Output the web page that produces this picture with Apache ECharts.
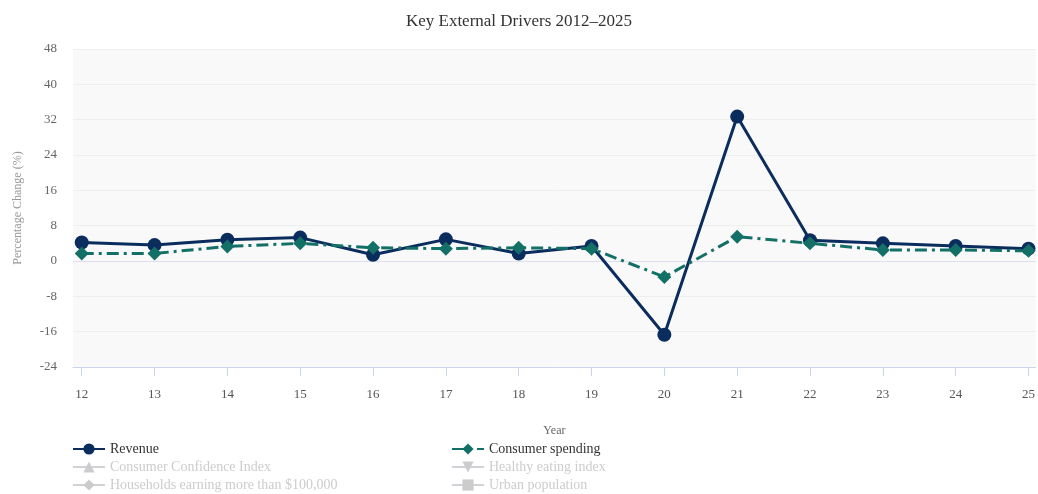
<!DOCTYPE html>
<html>
<head>
<meta charset="utf-8">
<title>Key External Drivers 2012–2025</title>
<script src="https://cdn.jsdelivr.net/npm/echarts@6/dist/echarts.min.js"></script>
<style>
  html, body { margin: 0; padding: 0; background: #ffffff; }
  #chart { width: 1038px; height: 494px; }
</style>
</head>
<body>
<div id="chart"></div>
<script>
// Two-digit year labels along the x axis
const years = [12, 13, 14, 15, 16, 17, 18, 19, 20, 21, 22, 23, 24, 25];

// Year-on-year percentage change
const revenue = [4.2, 3.6, 4.8, 5.3, 1.4, 4.9, 1.7, 3.4, -16.7, 32.7, 4.7, 4.0, 3.4, 2.8];
const consumerSpending = [1.7, 1.7, 3.3, 4.0, 3.0, 2.8, 3.0, 2.8, -3.6, 5.5, 4.0, 2.5, 2.5, 2.3];

// Drivers switched off in the legend (no values plotted)
const consumerConfidence = [];
const healthyEating = [];
const householdsOver100k = [];
const urbanPopulation = [];

// Y axis range
const yMin = -24, yMax = 48, yStep = 8;

const serif = '"Liberation Serif", "DejaVu Serif", serif';

const pair = (vals) => years.map((y, i) => [y, vals[i]]);

const chart = echarts.init(document.getElementById('chart'), null, { renderer: 'canvas' });

const legendText = { fontFamily: serif, fontSize: 14, color: '#333333' };
const hidden = {
  'Consumer Confidence Index': false,
  'Healthy eating index': false,
  'Households earning more than $100,000': false,
  'Urban population': false
};

const legendBase = {
  orient: 'vertical', top: 442, height: 60, padding: 0,
  itemWidth: 32, itemHeight: 14, itemGap: 4,
  inactiveColor: '#cccccc',
  inactiveBorderColor: '#cccccc',
  textStyle: legendText,
  selected: hidden
};

chart.setOption({
  animation: false,
  backgroundColor: '#ffffff',
  title: {
    text: 'Key External Drivers 2012–2025',
    left: 'center',
    top: 8,
    textStyle: { fontFamily: serif, fontSize: 17, fontWeight: 'normal', color: '#333333' }
  },
  grid: {
    left: 73, right: 0, top: 49, bottom: 127,
    show: true, backgroundColor: '#f9f9fa', borderWidth: 0
  },
  legend: [
    Object.assign({}, legendBase, {
      left: 72,
      data: ['Revenue', 'Consumer Confidence Index', 'Households earning more than $100,000']
    }),
    Object.assign({}, legendBase, {
      left: 451,
      data: ['Consumer spending', 'Healthy eating index', 'Urban population']
    })
  ],
  xAxis: {
    type: 'value',
    min: 11.88, max: 25.1,
    name: 'Year',
    nameLocation: 'middle',
    nameGap: 58,
    nameTextStyle: { fontFamily: serif, fontSize: 12, color: '#666666' },
    axisLine: { show: true, onZero: false, lineStyle: { color: '#ccd6eb', width: 1 } },
    axisTick: { show: true, customValues: years, length: 9, lineStyle: { color: '#ccd6eb' } },
    axisLabel: {
      customValues: years,
      margin: 21,
      fontFamily: serif, fontSize: 13, color: '#555555',
      formatter: (v) => String(v)
    },
    splitLine: { show: false }
  },
  yAxis: {
    type: 'value',
    min: yMin, max: yMax, interval: yStep,
    name: 'Percentage Change (%)',
    nameLocation: 'middle',
    nameGap: 49,
    nameTextStyle: { fontFamily: serif, fontSize: 12, color: '#999999' },
    axisLine: { show: false },
    axisTick: { show: false },
    axisLabel: { margin: 16, fontFamily: serif, fontSize: 13, color: '#666666' },
    splitLine: { show: true, lineStyle: { color: '#eeeeef', width: 1 } }
  },
  series: [
    {
      name: 'Revenue',
      type: 'line',
      data: pair(revenue),
      color: '#0b2d5e',
      symbol: 'circle',
      symbolSize: 14,
      lineStyle: { width: 3, color: '#0b2d5e' },
      itemStyle: { color: '#0b2d5e' },
      z: 3,
      markLine: {
        silent: true,
        symbol: 'none',
        label: { show: false },
        lineStyle: { color: '#dcdfee', width: 1, type: 'solid' },
        data: [{ yAxis: 0 }],
        z: 1
      }
    },
    {
      name: 'Consumer spending',
      type: 'line',
      data: pair(consumerSpending),
      color: '#137067',
      symbol: 'diamond',
      symbolSize: [14, 14],
      lineStyle: { width: 3, color: '#137067', type: [12, 5, 3, 5] },
      itemStyle: { color: '#137067' },
      z: 4
    },
    {
      name: 'Consumer Confidence Index',
      type: 'line',
      data: consumerConfidence,
      color: '#7cb5ec',
      symbol: 'triangle',
      symbolSize: 12,
      lineStyle: { width: 3, type: 'dotted' }
    },
    {
      name: 'Healthy eating index',
      type: 'line',
      data: healthyEating,
      color: '#90ed7d',
      symbol: 'path://M0,0 L10,0 L5,10 Z',
      symbolSize: 12,
      lineStyle: { width: 3 }
    },
    {
      name: 'Households earning more than $100,000',
      type: 'line',
      data: householdsOver100k,
      color: '#f7a35c',
      symbol: 'diamond',
      symbolSize: 12,
      lineStyle: { width: 3, type: 'dotted' }
    },
    {
      name: 'Urban population',
      type: 'line',
      data: urbanPopulation,
      color: '#8085e9',
      symbol: 'rect',
      symbolSize: 12,
      lineStyle: { width: 3 }
    }
  ]
});
</script>
</body>
</html>
